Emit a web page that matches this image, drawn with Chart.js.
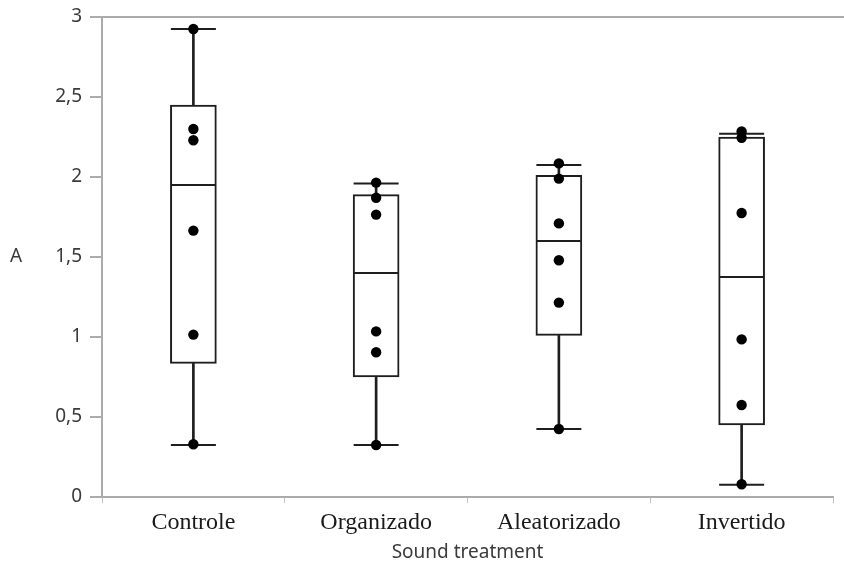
<!DOCTYPE html>
<html>
<head>
<meta charset="utf-8">
<script src="https://cdn.jsdelivr.net/npm/chart.js@4.4.1/dist/chart.umd.min.js"></script>
<style>
html,body{margin:0;padding:0;background:#fff;}
#wrap{width:844px;height:570px;}
</style>
</head>
<body>
<div id="wrap"><canvas id="c" width="844" height="570"></canvas></div>
<script>
const categories = ['Controle', 'Organizado', 'Aleatorizado', 'Invertido'];
const minVals = [0.325, 0.325, 0.425, 0.077];
const q1Vals = [0.835, 0.75, 1.01, 0.45];
const medVals = [1.95, 1.40, 1.60, 1.375];
const q3Vals = [2.45, 1.89, 2.01, 2.25];
const maxVals = [2.925, 1.96, 2.075, 2.27];
const controlePts = [2.925, 2.30, 2.23, 1.665, 1.015, 0.33];
const organizadoPts = [1.965, 1.87, 1.765, 1.035, 0.905, 0.325];
const aleatorizadoPts = [2.085, 1.99, 1.71, 1.48, 1.215, 0.425];
const invertidoPts = [2.285, 2.245, 1.775, 0.985, 0.575, 0.08];
const yTicks = [0, 0.5, 1, 1.5, 2, 2.5, 3];
const xTitle = 'Sound treatment';
const yTitle = 'A';

const allPts = [controlePts, organizadoPts, aleatorizadoPts, invertidoPts];
const pointData = [];
allPts.forEach((arr, i) => arr.forEach(v => pointData.push({x: categories[i], y: v})));
const capData = [];
categories.forEach((c, i) => { capData.push({x: c, y: minVals[i]}); capData.push({x: c, y: maxVals[i]}); });
const medData = categories.map((c, i) => ({x: c, y: medVals[i]}));

const INK = '#1e1e1e';
const AXIS = '#ababab';
const TXT = '#3a3a3a';

const extras = {
  id: 'extras',
  afterDraw(chart) {
    const ctx = chart.ctx, a = chart.chartArea;
    ctx.save();
    ctx.strokeStyle = AXIS;
    ctx.lineWidth = 2;
    ctx.beginPath();
    ctx.moveTo(a.left, a.top);
    ctx.lineTo(chart.width, a.top);
    ctx.stroke();
    ctx.fillStyle = TXT;
    ctx.font = '19px "Noto Sans"';
    ctx.textAlign = 'left';
    ctx.textBaseline = 'middle';
    const y = chart.scales.y;
    ctx.fillText(yTitle, 10, y.getPixelForValue(1.5));
    ctx.restore();
  }
};

new Chart(document.getElementById('c'), {
  data: {
    labels: categories,
    datasets: [
      { type: 'bar', label: 'wlo', data: categories.map((c, i) => [minVals[i], q1Vals[i]]), backgroundColor: INK, borderWidth: 0, barThickness: 2, grouped: false, order: 5 },
      { type: 'bar', label: 'whi', data: categories.map((c, i) => [q3Vals[i], maxVals[i]]), backgroundColor: INK, borderWidth: 0, barThickness: 2, grouped: false, order: 5 },
      { type: 'bar', label: 'boxlo', data: categories.map((c, i) => [q1Vals[i], medVals[i]]), backgroundColor: '#ffffff', borderColor: INK, borderWidth: {left: 2, right: 2, top: 0, bottom: 2}, borderSkipped: false, barThickness: 46, grouped: false, order: 4 },
      { type: 'bar', label: 'boxhi', data: categories.map((c, i) => [medVals[i], q3Vals[i]]), backgroundColor: '#ffffff', borderColor: INK, borderWidth: {left: 2, right: 2, top: 2, bottom: 0}, borderSkipped: false, barThickness: 46, grouped: false, order: 4 },
      { type: 'line', label: 'median', data: medData, showLine: false, pointStyle: 'line', pointRadius: 22, pointBorderWidth: 2, pointBorderColor: INK, pointBackgroundColor: INK, order: 3 },
      { type: 'line', label: 'caps', data: capData, showLine: false, pointStyle: 'line', pointRadius: 22.5, pointBorderWidth: 2, pointBorderColor: INK, pointBackgroundColor: INK, order: 3 },
      { type: 'line', label: 'pts', data: pointData, showLine: false, pointStyle: 'circle', pointRadius: 5.2, pointBorderWidth: 0, pointBackgroundColor: '#000', pointBorderColor: '#000', order: 1 }
    ]
  },
  options: {
    responsive: false,
    animation: false,
    layout: { autoPadding: false, padding: { left: 0, right: 11, top: 17, bottom: 6 } },
    plugins: { legend: { display: false }, tooltip: { enabled: false } },
    scales: {
      x: {
        type: 'category',
        offset: true,
        grid: { display: true, drawOnChartArea: false, offset: true, tickLength: 6, color: '#c4c4c4', lineWidth: 1 },
        border: { color: AXIS, width: 2 },
        ticks: { color: '#1a1a1a', font: { family: '"Liberation Serif", "Times New Roman", serif', size: 24 }, padding: 5 },
        title: { display: true, text: xTitle, color: TXT, font: { family: '"Noto Sans"', size: 19 }, padding: { top: 0, bottom: 0 } },
        afterFit(s) { s.height = 67; s.paddingLeft = 0; s.paddingRight = 0; }
      },
      y: {
        min: 0, max: 3,
        afterBuildTicks(s) { s.ticks = yTicks.map(v => ({ value: v })); },
        grid: { display: true, drawOnChartArea: false, tickLength: 12, color: AXIS, lineWidth: 2 },
        border: { color: AXIS, width: 2 },
        ticks: { color: TXT, font: { family: '"Noto Sans"', size: 19 }, padding: 8, callback: v => String(v).replace('.', ',') },
        afterFit(s) { s.width = 102; s.paddingTop = 0; s.paddingBottom = 0; }
      }
    }
  },
  plugins: [extras]
});
</script>
</body>
</html>
